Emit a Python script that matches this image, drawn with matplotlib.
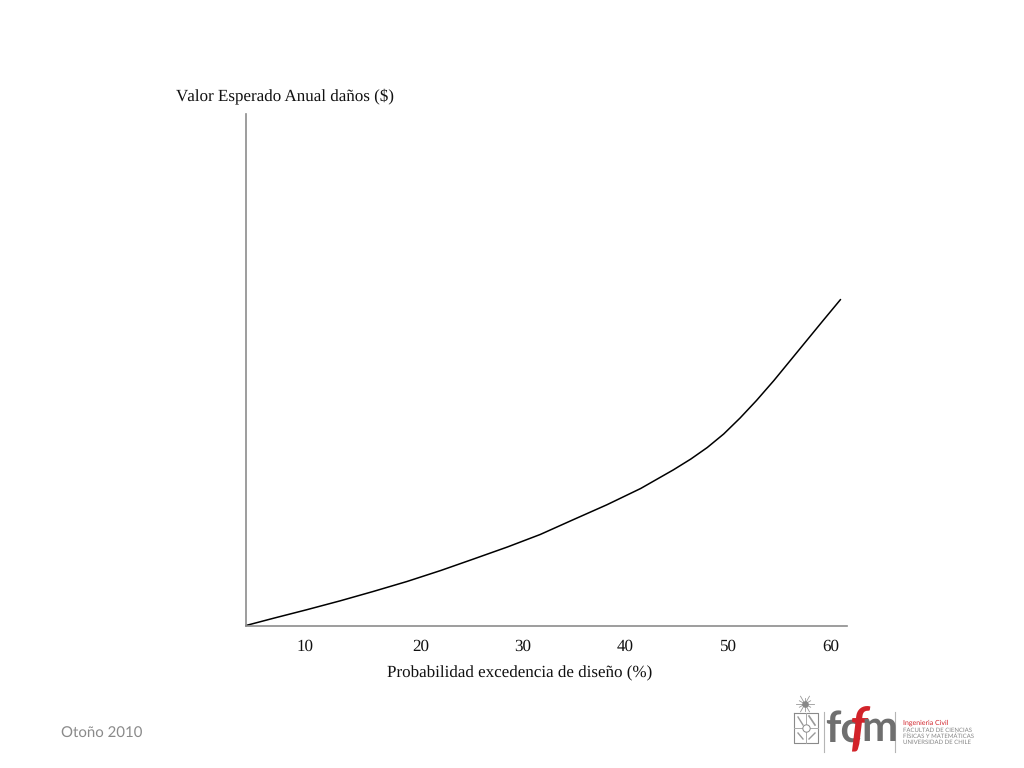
import matplotlib

matplotlib.use("Agg")
import matplotlib.pyplot as plt
import numpy as np

plt.rcParams["text.hinting"] = "none"
plt.rcParams["text.hinting_factor"] = 1

# curve (y has no scale in the original, so arbitrary units)
prob = [3.0, 5.7, 8.9, 12.2, 15.4, 18.7, 22.0, 25.2, 28.5, 31.7, 34.9, 38.2,
        41.5, 44.7, 46.4, 48.0, 49.6, 51.2, 52.8, 54.5, 56.1, 57.7, 59.3, 61.0]
damage = [0, 7.3, 15.7, 24.7, 34, 44, 55, 66.5, 78.5, 91, 105.7, 120.7,
          137, 155.7, 166.5, 178, 191.5, 207.5, 225, 245, 265, 285, 305, 326]
tick_pos = [8.8, 20, 30, 40, 50, 60]
tick_labels = ["10", "20", "30", "40", "50", "60"]

W, H = 1024, 768
SERIF = "Liberation Serif"
AXIS_GREY = "#8c8c8c"

fig = plt.figure(figsize=(W / 100, H / 100), dpi=100, facecolor="white")
ax = fig.add_axes([246 / W, 1 - 625.5 / H, 601 / W, 512 / H])
ax.plot(prob, damage, color="black", lw=1.1, solid_capstyle="round", clip_on=False)
ax.set_xlim(3, 61.63)
ax.set_ylim(0, 512)
ax.spines["top"].set_visible(False)
ax.spines["right"].set_visible(False)
ax.spines["left"].set_color(AXIS_GREY)
ax.spines["bottom"].set_color(AXIS_GREY)
ax.spines["left"].set_linewidth(1.2)
ax.spines["bottom"].set_linewidth(1.2)
ax.set_yticks([])
ax.set_xticks(tick_pos)
ax.set_xticklabels(tick_labels, fontfamily=SERIF, fontsize=12.6, color="#111111")
ax.tick_params(axis="x", length=0, pad=9.5)

# overlay in pixel coordinates for the free text and the footer logo
ov = fig.add_axes([0, 0, 1, 1], facecolor="none")
ov.set_xlim(0, W)
ov.set_ylim(H, 0)
ov.axis("off")
ov.text(176, 96, "Valor Esperado Anual daños ($)", family=SERIF, fontsize=12.55,
        va="center", ha="left", color="#111111")
ov.text(387, 673, "Probabilidad excedencia de diseño (%)", family=SERIF, fontsize=12.25,
        va="center", ha="left", color="#111111")
ov.text(61, 734, "Otoño 2010", family="Lato", fontsize=10.8, va="center", ha="left",
        color="#8a8a8a")

# logo
LOGO_GREY = "#6f6f6f"
LOGO_RED = "#d2232a"
NARROW = ["Liberation Sans Narrow", "Lato"]
ov.plot([824, 824], [712, 752], color="#b5b5b5", lw=0.8)
ov.plot([895, 895], [712, 752], color="#b5b5b5", lw=0.8)
ov.text(825.5, 729, "fc", family=NARROW, weight="bold", fontsize=31, color=LOGO_GREY,
        va="center", ha="left")
ov.text(849, 730, "f", family=NARROW, weight="bold", fontsize=38, color=LOGO_RED,
        va="center", ha="left", style="italic")
ov.text(861, 729, "m", family=NARROW, weight="bold", fontsize=31, color=LOGO_GREY,
        va="center", ha="left")
ov.text(903, 723, "Ingeniería Civil", family="Lato", fontsize=4.8, color=LOGO_RED,
        va="center", ha="left")
for yy, line in zip([730, 736, 742], ["FACULTAD DE CIENCIAS", "FÍSICAS Y MATEMÁTICAS",
                                      "UNIVERSIDAD DE CHILE"]):
    ov.text(903, yy, line, family="Lato", fontsize=4.35, color="#858585",
            va="center", ha="left")

# shield and sun of the emblem
ov.plot([794, 818, 818, 794, 794], [713, 713, 743, 743, 713], color="#8a8a8a", lw=0.8)
ov.plot([794, 818], [728, 728], color="#aaaaaa", lw=0.7)
ov.plot([806, 806], [713, 743], color="#aaaaaa", lw=0.7)
ov.plot([798, 803], [717, 725], color="#999999", lw=1)
ov.plot([809, 815], [716, 725], color="#999999", lw=1.2)
ov.plot([798, 803], [733, 739], color="#999999", lw=1)
ov.plot([809, 815], [739, 733], color="#999999", lw=1)
ov.scatter([806], [728], s=28, facecolor="white", edgecolor="#888888", lw=0.7, zorder=3)
for ang in np.arange(0, 360, 30):
    r = 9 if ang % 60 == 0 else 6.5
    ov.plot([805, 805 + r * np.cos(np.radians(ang))], [704, 704 + r * np.sin(np.radians(ang))],
            color="#999999", lw=0.6)
ov.scatter([805], [704], s=14, color="#888888", zorder=3)

fig.savefig("out.png", dpi=100, facecolor="white")
